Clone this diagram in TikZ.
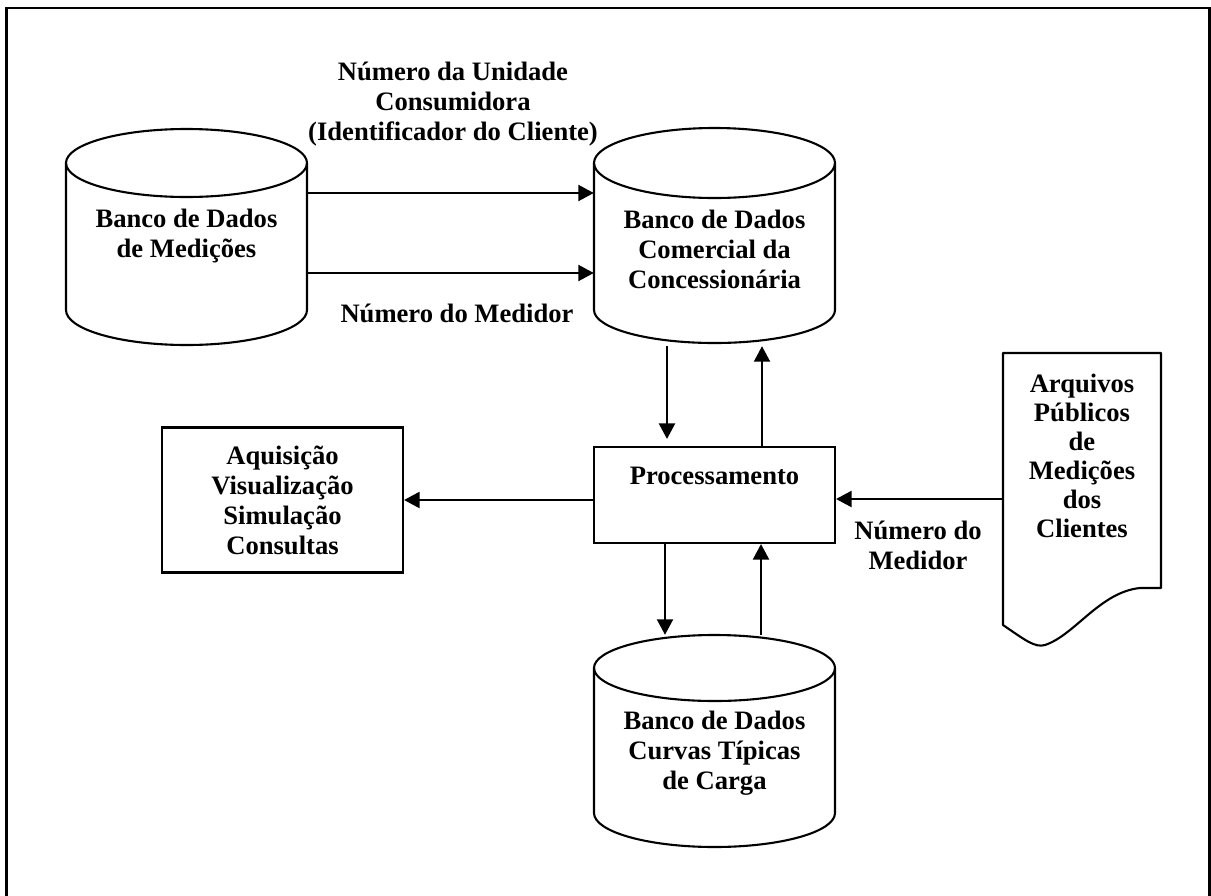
\documentclass[tikz,border=0pt]{standalone}
\usepackage{fontspec}
\setmainfont{Liberation Serif}
\usetikzlibrary{arrows.meta}
\begin{document}
\begin{tikzpicture}[x=1pt,y=-1pt,
  lbl/.style={font=\fontsize{26.6}{30}\selectfont\bfseries, align=center, inner sep=0pt},
  ln/.style={line width=2.1pt},
  arr/.style={line width=2.1pt, -{Triangle[length=15.5pt,width=16pt]}},
  hit/.style={inner sep=0pt, draw=none}]
\useasboundingbox (0,0) rectangle (1211,895);
\fill[white] (0,0) rectangle (1211,895);
\draw[line width=2.7pt] (6.7,900) -- (6.7,8) -- (1209.5,8) -- (1209.5,900);

% cylinder 1
\node[hit, lbl, minimum width=241pt, minimum height=216pt] (c1) at (186.5,236) {Banco de Dados\\de Medições};
\draw[ln] (186.5,163) ellipse [x radius=120.5pt, y radius=34pt];
\draw[ln] (66,163) -- (66,310) arc[start angle=180, end angle=360, x radius=120.5pt, y radius=35pt] -- (307,163);

% cylinder 2
\node[hit, minimum width=241pt, minimum height=216pt] (c2) at (714.5,236) {};
\draw[ln] (714.5,163) ellipse [x radius=120.5pt, y radius=35pt];
\draw[ln] (594,163) -- (594,310) arc[start angle=180, end angle=360, x radius=120.5pt, y radius=33pt] -- (835,163);
\node[lbl] (t2) at (714.5,249) {Banco de Dados\\Comercial da\\Concessionária};

% cylinder 3
\node[hit, minimum width=241pt, minimum height=212pt] (c3) at (714.5,741) {};
\draw[ln] (714.5,668) ellipse [x radius=120.5pt, y radius=33pt];
\draw[ln] (594,668) -- (594,813) arc[start angle=180, end angle=360, x radius=120.5pt, y radius=34pt] -- (835,668);
\node[lbl] (t3) at (714.5,753) {Banco de Dados\\Curvas Típicas\\de Carga};

% processing box
\node[draw, ln, hit, draw, minimum width=241pt, minimum height=96pt] (proc) at (714.5,495) {};
\node[lbl] (tp) at (714.5,476) {Processamento};

% acquisition box
\node[draw, ln, lbl, minimum width=241pt, minimum height=145pt] (aq) at (282.5,500) {Aquisição\\Visualização\\Simulação\\Consultas};

% document
\node[hit, minimum width=158pt, minimum height=292pt] (doc) at (1082,499) {};
\draw[ln, line join=round] (1003,353) -- (1161,353) -- (1161,588) -- (1140,588)
  .. controls (1100,592) and (1075,635) .. (1045,645)
  .. controls (1035,648) and (1025,640) .. (1003,625) -- cycle;
\node[lbl, font=\fontsize{26.6}{29}\selectfont\bfseries] (td) at (1082,456) {Arquivos\\Públicos\\de\\Medições\\dos\\Clientes};

% labels
\node[lbl] (l1) at (453,104) {Número da Unidade\\Consumidora\\(Identificador do Cliente)};
\node[lbl] (l2) at (457,313) {Número do Medidor};
\node[lbl] (l3) at (918,545) {Número do\\Medidor};

% connectors
\draw[arr] ([yshift=43pt]c1.east) -- ([yshift=43pt]c2.west);
\draw[arr] ([yshift=-37pt]c1.east) -- ([yshift=-37pt]c2.west);
\draw[arr] ([xshift=-47.5pt,yshift=-2pt]c2.south) -- ([xshift=-47.5pt,yshift=7pt]proc.north);
\draw[arr] ([xshift=47.5pt]proc.north) -- ([xshift=47.5pt,yshift=-2pt]c2.south);
\draw[arr] ([xshift=-49.5pt]proc.south) -- ([xshift=-49.5pt]c3.north);
\draw[arr] ([xshift=46.5pt]c3.north) -- ([xshift=46.5pt]proc.south);
\draw[arr] (aq.east -| proc.west) -- (aq.east);
\draw[arr] (doc.west) -- (doc.west -| proc.east);
\end{tikzpicture}
\end{document}
